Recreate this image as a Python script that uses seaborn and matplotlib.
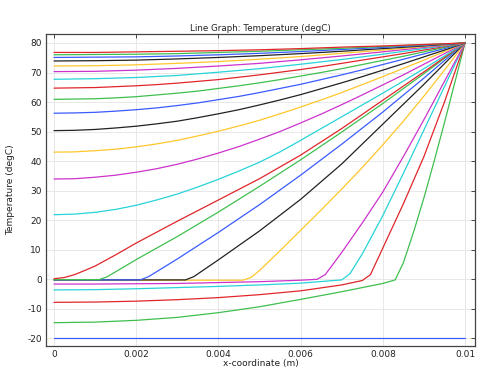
import numpy as np
import pandas as pd
import matplotlib
matplotlib.use("Agg")
import matplotlib.pyplot as plt
import seaborn as sns

# ---------------- data ----------------
X_GRID = [0, 0.001, 0.002, 0.003, 0.004, 0.005, 0.006, 0.007, 0.008, 0.009, 0.01]
X_FINE = [0, 0.0005, 0.001, 0.0015, 0.002, 0.0025, 0.003, 0.0035, 0.004, 0.0045, 0.005,
          0.0055, 0.006, 0.0065, 0.007, 0.0075, 0.008, 0.0085, 0.009, 0.0095, 0.01]

# curves 11..17 on X_FINE
T11 = [21.8, 22.0, 22.6, 23.6, 25.0, 26.8, 28.8, 31.2, 33.8, 36.6, 39.6,
       43.1, 47.0, 51.0, 55.0, 59.0, 63.0, 67.1, 71.3, 75.6, 80]
T12 = [33.9, 34.0, 34.5, 35.2, 36.2, 37.4, 38.9, 40.7, 42.7, 44.9, 47.4,
       50.0, 52.9, 55.9, 59.1, 62.4, 65.8, 69.2, 72.8, 76.4, 80]
T13 = [43.0, 43.1, 43.5, 44.0, 44.8, 45.8, 47.0, 48.5, 50.1, 51.9, 53.8,
       56.0, 58.3, 60.7, 63.2, 65.9, 68.6, 71.4, 74.2, 77.1, 80]
T14 = [50.3, 50.4, 50.7, 51.2, 51.8, 52.6, 53.5, 54.7, 56.0, 57.4, 59.0,
       60.7, 62.5, 64.5, 66.5, 68.6, 70.8, 73.0, 75.3, 77.6, 80]
T15 = [56.2, 56.3, 56.5, 56.9, 57.4, 58.0, 58.8, 59.7, 60.8, 61.9, 63.2,
       64.6, 66.0, 67.6, 69.2, 70.9, 72.7, 74.5, 76.3, 78.1, 80]
T16 = [60.9, 61.0, 61.1, 61.4, 61.8, 62.4, 63.0, 63.7, 64.6, 65.5, 66.5,
       67.6, 68.8, 70.0, 71.3, 72.7, 74.1, 75.5, 77.0, 78.5, 80]
T17 = [64.7, 64.8, 64.9, 65.2, 65.5, 65.9, 66.4, 67.0, 67.6, 68.4, 69.2,
       70.1, 71.0, 72.0, 73.1, 74.2, 75.3, 76.4, 77.6, 78.8, 80]

# curves 18..24 on X_GRID
T18 = [67.7, 67.9, 68.3, 69.0, 70.1, 71.3, 72.8, 74.4, 76.2, 78.1, 80]
T19 = [70.3, 70.4, 70.8, 71.4, 72.2, 73.1, 74.3, 75.6, 77.0, 78.5, 80]
T20 = [72.2, 72.3, 72.6, 73.1, 73.7, 74.5, 75.4, 76.5, 77.6, 78.8, 80]
T21 = [73.9, 74.0, 74.2, 74.6, 75.1, 75.7, 76.4, 77.2, 78.1, 79.0, 80]
T22 = [75.1, 75.2, 75.3, 75.6, 76.0, 76.5, 77.1, 77.8, 78.5, 79.2, 80]
T23 = [76.0, 76.1, 76.2, 76.4, 76.8, 77.2, 77.7, 78.2, 78.8, 79.4, 80]
T24 = [76.8, 76.8, 77.0, 77.2, 77.4, 77.7, 78.1, 78.6, 79.0, 79.5, 80]

# curves 1..10 (with phase front): own x positions
X1 = [0, 0.01]
T1 = [-20, -20]
X2 = [0, 0.001, 0.002, 0.003, 0.004, 0.005, 0.006, 0.007, 0.008, 0.0083, 0.0085,
      0.00875, 0.009, 0.00925, 0.0095, 0.00975, 0.01]
T2 = [-14.8, -14.6, -14.0, -13.0, -11.4, -9.4, -6.9, -4.3, -1.5, -0.3, 5.5,
      16.0, 27.5, 40.0, 53.0, 66.5, 80]
X3 = [0, 0.001, 0.002, 0.003, 0.004, 0.005, 0.006, 0.007, 0.0075, 0.0077, 0.008,
      0.0085, 0.009, 0.0095, 0.01]
T3 = [-7.9, -7.8, -7.5, -7.0, -6.3, -5.3, -4.0, -2.0, -0.5, 1.5, 10.5,
      25.5, 41.5, 60.0, 80]
X4 = [0, 0.001, 0.002, 0.003, 0.004, 0.005, 0.006, 0.007, 0.0072, 0.0075, 0.008,
      0.0085, 0.009, 0.0095, 0.01]
T4 = [-3.7, -3.6, -3.3, -2.9, -2.5, -2.0, -1.4, -0.3, 1.8, 8.5, 21.5,
      35.8, 50.5, 65.2, 80]
X5 = [0, 0.001, 0.002, 0.003, 0.004, 0.005, 0.006, 0.0064, 0.0066, 0.007, 0.0075,
      0.008, 0.0085, 0.009, 0.0095, 0.01]
T5 = [-1.7, -1.7, -1.6, -1.5, -1.2, -0.9, -0.4, -0.1, 1.5, 9.0, 19.0,
      29.5, 41.5, 54.0, 67.0, 80]
X6 = [0, 0.0046, 0.0048, 0.005, 0.0055, 0.006, 0.0065, 0.007, 0.0075, 0.008,
      0.0085, 0.009, 0.0095, 0.01]
T6 = [-0.4, -0.4, 0.6, 2.9, 9.6, 16.5, 23.4, 30.5, 37.8, 45.5,
      53.5, 62.0, 70.8, 80]
X7 = [0, 0.0032, 0.0034, 0.004, 0.005, 0.006, 0.007, 0.008, 0.009, 0.01]
T7 = [-0.3, -0.3, 0.8, 6.5, 16.3, 27.0, 39.0, 52.5, 66.0, 80]
X8 = [0, 0.0021, 0.0023, 0.003, 0.004, 0.005, 0.006, 0.007, 0.008, 0.009, 0.01]
T8 = [-0.3, -0.3, 0.8, 6.8, 15.8, 25.2, 35.2, 45.7, 56.6, 68.1, 80]
X9 = [0, 0.0011, 0.0013, 0.002, 0.003, 0.004, 0.005, 0.006, 0.007, 0.008, 0.009, 0.01]
T9 = [-0.2, -0.2, 0.8, 6.6, 14.4, 22.7, 31.4, 40.4, 49.8, 59.5, 69.6, 80]
X10 = [0, 0.00025, 0.0005, 0.00075, 0.001, 0.0015, 0.002, 0.0025, 0.003, 0.004,
       0.005, 0.006, 0.007, 0.008, 0.009, 0.01]
T10 = [0.1, 0.5, 1.5, 2.9, 4.4, 8.2, 12.2, 15.9, 19.6, 26.8,
       34.0, 42.0, 51.0, 60.6, 70.2, 80]

X_TICKS = [0, 0.002, 0.004, 0.006, 0.008, 0.01]
X_TICK_LABELS = ["0", "0.002", "0.004", "0.006", "0.008", "0.01"]
Y_TICKS = [-20, -10, 0, 10, 20, 30, 40, 50, 60, 70, 80]
Y_TICK_LABELS = ["-20", "-10", "0", "10", "20", "30", "40", "50", "60", "70", "80"]

TITLE = "Line Graph: Temperature (degC)"
XLABEL = "x-coordinate (m)"
YLABEL = "Temperature (degC)"

# ---------------- build long table ----------------
curves = [(X1, T1), (X2, T2), (X3, T3), (X4, T4), (X5, T5),
          (X6, T6), (X7, T7), (X8, T8), (X9, T9), (X10, T10)]
curves += [(X_FINE, t) for t in (T11, T12, T13, T14, T15, T16, T17)]
curves += [(X_GRID, t) for t in (T18, T19, T20, T21, T22, T23, T24)]

rows = []
for cid, (xs, ts) in enumerate(curves):
    for i, (x, t) in enumerate(zip(xs, ts)):
        rows.append((cid, i, x, t))
df = pd.DataFrame(rows, columns=["curve", "order", "x", "T"])

cycle = ["#3a5bff", "#3fbf4f", "#e0262b", "#27d3d8", "#cc33cc", "#ffc72c", "#222222"]
palette = [cycle[i % len(cycle)] for i in range(len(curves))]

# ---------------- plot ----------------
sns.set_theme(style="white")
plt.rcParams["font.family"] = ["DejaVu Sans"]
plt.rcParams["axes.unicode_minus"] = False

fig = plt.figure(figsize=(4.81, 3.72), dpi=100)
ax = fig.add_axes([46 / 481, 1 - 346 / 372, (475 - 46) / 481, (346 - 34) / 372])

sns.lineplot(data=df, x="x", y="T", hue="curve", palette=palette, units="curve",
             estimator=None, sort=False, legend=False, linewidth=0.9, ax=ax)

ax.set_xlim(-0.000195, 0.010243)
ax.set_ylim(-22.7, 83.05)
ax.set_xticks(X_TICKS)
ax.set_xticklabels(X_TICK_LABELS)
ax.set_yticks(Y_TICKS)
ax.set_yticklabels(Y_TICK_LABELS)

ax.grid(True, color="#e4e4e4", linewidth=0.6)
ax.set_axisbelow(True)
for s in ax.spines.values():
    s.set_color("#444444")
    s.set_linewidth(0.9)
ax.tick_params(axis="both", which="major", direction="in", length=3, width=0.7,
               colors="#444444", labelcolor="#222222", labelsize=6.5,
               top=True, right=True, pad=3)

ax.set_title(TITLE, fontsize=6.3, color="#222222", pad=2.5)
ax.set_xlabel(XLABEL, fontsize=6.5, color="#222222", labelpad=0)
ax.set_ylabel(YLABEL, fontsize=6.5, color="#222222", labelpad=9)

fig.savefig("out.png", dpi=100)
